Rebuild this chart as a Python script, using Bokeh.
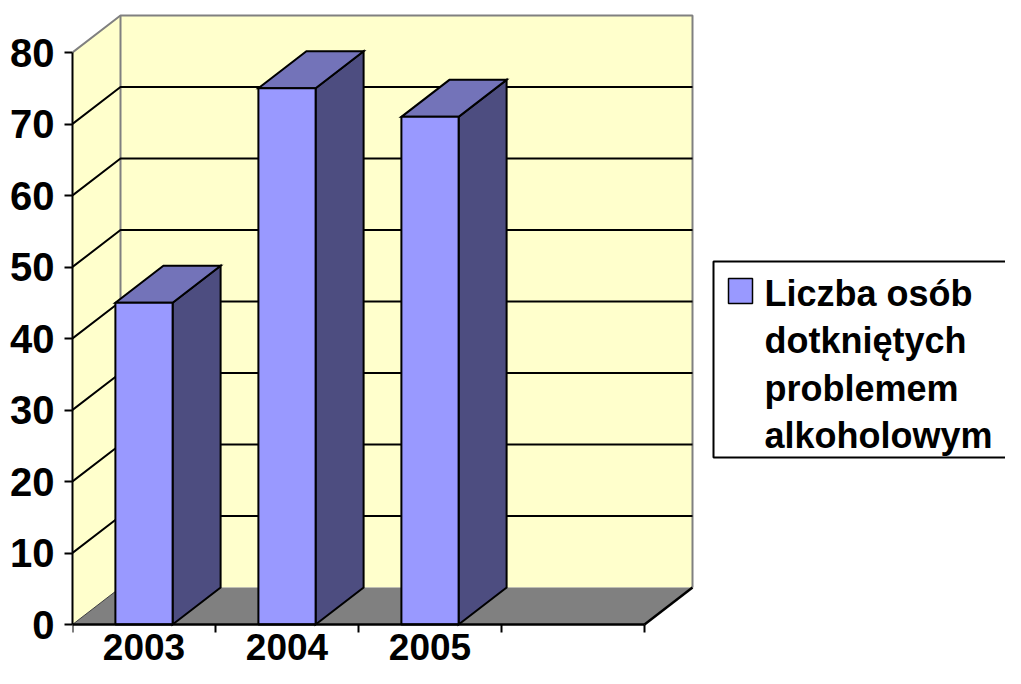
from bokeh.plotting import figure
from bokeh.models import Range1d, FixedTicker
from bokeh.core.properties import value
from bokeh.embed import file_html
from bokeh.resources import INLINE

# ---- data ----
years = ["2003", "2004", "2005"]
counts = [45, 75, 71]
y_ticks = [0, 10, 20, 30, 40, 50, 60, 70, 80]
legend_lines = ["Liczba osób", "dotkniętych", "problemem", "alkoholowym"]
n_slots = 4  # category slots on the axis (last one empty)
y_max = 80

# ---- layout (pixels on the canvas) ----
PX_PER_SLOT = 143.0
PX_PER_UNIT = 7.15
ORIGIN_X = 72      # canvas x of the front y-axis
ORIGIN_Y = 624     # canvas y of value 0
CANVAS_W, CANVAS_H = 1005, 668
DEPTH_PX_X, DEPTH_PX_Y = 48, 37

def dxp(X):
    return (X - ORIGIN_X) / PX_PER_SLOT

def dyp(Y):
    return (ORIGIN_Y - Y) / PX_PER_UNIT

DX = DEPTH_PX_X / PX_PER_SLOT
DY = DEPTH_PX_Y / PX_PER_UNIT
BAR_LO, BAR_HI = 0.3, 0.7

FONT = value("Liberation Sans")

p = figure(width=CANVAS_W, height=CANVAS_H, output_backend="svg", toolbar_location=None,
           x_range=Range1d(0.0, dxp(CANVAS_W)),
           y_range=Range1d(dyp(CANVAS_H), dyp(0)),
           x_axis_location=None, y_axis_location="left",
           min_border_left=ORIGIN_X, min_border_right=0, min_border_top=0, min_border_bottom=0,
           outline_line_color=None, background_fill_color="white", border_fill_color="white")
p.grid.visible = False

# ---- walls and floor ----
p.patch([0, 0, DX, DX], [0, y_max, y_max + DY, DY], fill_color="#FFFFCC", line_color=None)
p.quad(left=DX, right=n_slots + DX, bottom=DY, top=y_max + DY, fill_color="#FFFFCC", line_color=None)
p.patch([0, n_slots, n_slots + DX, DX], [0, 0, DY, DY], fill_color="#808080", line_color=None)

# wall edges (gray)
p.multi_line(xs=[[0, DX, n_slots + DX, n_slots + DX], [DX, DX]],
             ys=[[y_max, y_max + DY, y_max + DY, DY], [DY, y_max + DY]],
             line_color="#808080", line_width=2)
# floor left edge (thin dark) and right edge (black)
p.line([0, DX], [0, DY], line_color="#404040", line_width=1)
p.line([n_slots, n_slots + DX], [0, DY], line_color="black", line_width=2.5)

# gridlines
grid_vals = [t for t in y_ticks if 0 < t < y_max]
p.multi_line(xs=[[0, DX, n_slots + DX] for _ in grid_vals],
             ys=[[v, v + DY, v + DY] for v in grid_vals],
             line_color="black", line_width=2)

# ---- 3D bars ----
side_xs, side_ys, top_xs, top_ys = [], [], [], []
for i, v in enumerate(counts):
    a, b = i + BAR_LO, i + BAR_HI
    side_xs.append([b, b + DX, b + DX, b])
    side_ys.append([0, DY, v + DY, v])
    top_xs.append([a, b, b + DX, a + DX])
    top_ys.append([v, v, v + DY, v + DY])
p.patches(side_xs, side_ys, fill_color="#4D4D80", line_color="black", line_width=2, line_join="miter")
p.patches(top_xs, top_ys, fill_color="#7373B9", line_color="black", line_width=2, line_join="miter")
p.quad(left=[i + BAR_LO for i in range(len(counts))], right=[i + BAR_HI for i in range(len(counts))],
       bottom=0, top=counts, fill_color="#9999FF", line_color="black", line_width=2)

# ---- x axis (front edge of floor) ----
p.line([0, n_slots], [0, 0], line_color="black", line_width=2.5)
tick_len = 8 / PX_PER_UNIT
p.segment(x0=list(range(n_slots + 1)), y0=0, x1=list(range(n_slots + 1)), y1=-tick_len,
          line_color="black", line_width=2)
p.text(x=[i + 0.5 for i in range(len(years))], y=dyp(646), text=years,
       text_font=FONT, text_font_style="bold", text_font_size="37px",
       text_align="center", text_baseline="alphabetic", text_color="black")

# ---- y axis ----
ax = p.yaxis[0]
ax.ticker = FixedTicker(ticks=y_ticks)
ax.bounds = (0, y_max)
ax.axis_line_color = "black"
ax.axis_line_width = 2
ax.major_tick_line_color = "black"
ax.major_tick_line_width = 2
ax.major_tick_out = 8
ax.major_tick_in = 0
ax.minor_tick_line_color = None
ax.major_label_standoff = 10
ax.major_label_text_font = "Liberation Sans"
ax.major_label_text_font_style = "bold"
ax.major_label_text_font_size = "40px"
ax.major_label_text_color = "black"

# ---- legend ----
p.quad(left=dxp(713), right=dxp(1040), top=dyp(261), bottom=dyp(457),
       fill_color="white", line_color="black", line_width=2)
p.quad(left=dxp(728), right=dxp(752), top=dyp(278), bottom=dyp(303),
       fill_color="#9999FF", line_color="black", line_width=1.5)
p.text(x=dxp(764), y=[dyp(293 + k * 47.3) for k in range(len(legend_lines))], text=legend_lines,
       text_font=FONT, text_font_style="bold", text_font_size="36px",
       text_align="left", text_baseline="alphabetic", text_color="black")

open("out.html", "w").write(file_html(p, INLINE))
